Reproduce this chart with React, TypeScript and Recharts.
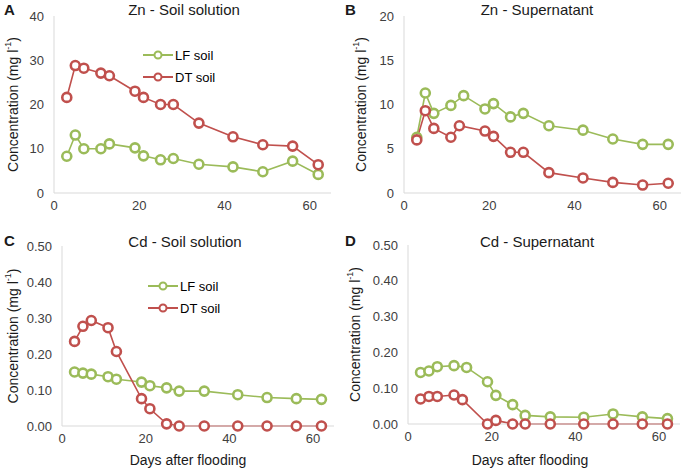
import { LineChart, Line, XAxis, YAxis, Legend, Label } from "recharts";

const daysSoil = [3, 5, 7, 11, 13, 19, 21, 25, 28, 34, 42, 49, 56, 62];
const daysSupLF = [3, 5, 7, 11, 14, 19, 21, 25, 28, 34, 42, 49, 56, 62];
const daysSupDT = [3, 5, 7, 11, 13, 19, 21, 25, 28, 34, 42, 49, 56, 62];

const znSoilLF = [8.3, 13.1, 10.0, 10.0, 11.1, 10.2, 8.4, 7.5, 7.8, 6.5, 5.9, 4.8, 7.2, 4.2];
const znSoilDT = [21.6, 28.8, 28.2, 27.1, 26.5, 23.0, 21.6, 20.0, 20.0, 15.8, 12.7, 10.9, 10.6, 6.4];

const znSupLF = [6.3, 11.3, 9.0, 9.9, 11.0, 9.5, 10.1, 8.6, 9.0, 7.6, 7.1, 6.1, 5.5, 5.5];
const znSupDT = [6.0, 9.3, 7.3, 6.3, 7.6, 7.0, 6.4, 4.6, 4.6, 2.3, 1.7, 1.2, 0.9, 1.1];

const cdSoilLF = [0.15, 0.147, 0.144, 0.137, 0.13, 0.122, 0.112, 0.106, 0.097, 0.097, 0.087, 0.079, 0.076, 0.074];
const cdSoilDT = [0.235, 0.277, 0.293, 0.273, 0.207, 0.076, 0.048, 0.006, 0, 0, 0, 0, 0, 0];

const cdSupLF = [0.144, 0.148, 0.16, 0.163, 0.158, 0.118, 0.08, 0.054, 0.024, 0.02, 0.019, 0.028, 0.02, 0.015];
const cdSupDT = [0.07, 0.077, 0.077, 0.081, 0.068, 0, 0.01, 0, 0, 0, 0, 0, 0, 0];

const xTicks = [0, 20, 40, 60];
const znSoilTicks = [0, 10, 20, 30, 40];
const znSupTicks = [0, 5, 10, 15, 20];
const cdTicks = [0, 0.1, 0.2, 0.3, 0.4, 0.5];

const GREEN = "#9BBB59";
const RED = "#C0504D";
const FONT = "'Liberation Sans', Arial, sans-serif";

const toPoints = (days: number[], vals: number[]) =>
  days.map((d, i) => ({ day: d, value: vals[i] }));

const LegendBox = () => (
  <div style={{ fontFamily: FONT, fontSize: 13, color: "#000", fontWeight: 400 }}>
    {[
      { name: "LF soil", color: GREEN },
      { name: "DT soil", color: RED },
    ].map((it) => (
      <div key={it.name} style={{ display: "flex", alignItems: "center", height: 22 }}>
        <svg width={30} height={12}>
          <line x1={0} y1={6} x2={30} y2={6} stroke={it.color} strokeWidth={2} />
          <circle cx={15} cy={6} r={3.5} fill="#fff" stroke={it.color} strokeWidth={2} />
        </svg>
        <span style={{ marginLeft: 2 }}>{it.name}</span>
      </div>
    ))}
  </div>
);

type PanelProps = {
  left: number;
  top: number;
  width: number;
  height: number;
  margin: { top: number; right: number; left: number; bottom: number };
  lf: { day: number; value: number }[];
  dt: { day: number; value: number }[];
  yDomain: [number, number];
  yTicks: number[];
  decimals: number;
  yLabelX: number;
  legendPos?: { left: number; top: number };
};

const Panel = (p: PanelProps) => {
  const yLabel = (props: any) => {
    const vb = props.viewBox || {};
    const cy = vb.y + vb.height / 2;
    return (
      <text
        x={p.yLabelX}
        y={cy}
        transform={`rotate(-90 ${p.yLabelX} ${cy})`}
        textAnchor="middle"
        dominantBaseline="central"
        fontSize={14}
        fill="#1a1a1a"
        fontFamily={FONT}
      >
        Concentration (mg l
        <tspan dy={-5} fontSize={9}>
          -1
        </tspan>
        <tspan dy={5}>)</tspan>
      </text>
    );
  };
  return (
    <div style={{ position: "absolute", left: p.left, top: p.top }}>
      <LineChart width={p.width} height={p.height} margin={p.margin}>
        <XAxis
          type="number"
          dataKey="day"
          domain={[0, 65]}
          ticks={xTicks}
          allowDataOverflow
          axisLine={{ stroke: "#d9d9d9" }}
          tickLine={false}
          tickMargin={2}
          height={30}
          tick={{ fontSize: 13, fill: "#404040", fontFamily: FONT }}
        />
        <YAxis
          type="number"
          domain={p.yDomain}
          ticks={p.yTicks}
          width={44}
          axisLine={{ stroke: "#d9d9d9" }}
          tickLine={false}
          tickMargin={4}
          tickFormatter={(v: number) => v.toFixed(p.decimals)}
          tick={{ fontSize: 13, fill: "#404040", fontFamily: FONT }}
        >
          <Label content={yLabel} />
        </YAxis>
        {p.legendPos && (
          <Legend
            layout="horizontal"
            verticalAlign="middle"
            align="center"
            content={() => <LegendBox />}
            wrapperStyle={{ position: "absolute", left: p.legendPos.left, top: p.legendPos.top, width: "auto" }}
          />
        )}
        <Line
          data={p.lf}
          dataKey="value"
          stroke={GREEN}
          strokeWidth={1.6}
          dot={{ r: 4.5, fill: "#fff", stroke: GREEN, strokeWidth: 2.6 }}
          isAnimationActive={false}
        />
        <Line
          data={p.dt}
          dataKey="value"
          stroke={RED}
          strokeWidth={1.6}
          dot={{ r: 4.5, fill: "#fff", stroke: RED, strokeWidth: 2.6 }}
          isAnimationActive={false}
        />
      </LineChart>
    </div>
  );
};

const textStyle = (left: number, top: number, extra: any = {}) => ({
  position: "absolute" as const,
  left,
  top,
  fontFamily: FONT,
  fontWeight: 400,
  color: "#1a1a1a",
  whiteSpace: "nowrap" as const,
  ...extra,
});

const App = () => {
  return (
    <div style={{ position: "absolute", left: 0, top: 0, width: 685, height: 471, background: "#fff", overflow: "hidden" }}>
      <Panel
        left={0}
        top={0}
        width={340}
        height={235}
        margin={{ top: 16, right: 9, left: 10, bottom: 12 }}
        lf={toPoints(daysSoil, znSoilLF)}
        dt={toPoints(daysSoil, znSoilDT)}
        yDomain={[0, 40]}
        yTicks={znSoilTicks}
        decimals={0}
        yLabelX={13}
        legendPos={{ left: 143, top: 44 }}
      />
      <Panel
        left={340}
        top={0}
        width={345}
        height={235}
        margin={{ top: 16, right: 4, left: 20, bottom: 12 }}
        lf={toPoints(daysSupLF, znSupLF)}
        dt={toPoints(daysSupDT, znSupDT)}
        yDomain={[0, 20]}
        yTicks={znSupTicks}
        decimals={0}
        yLabelX={21}
      />
      <Panel
        left={0}
        top={235}
        width={340}
        height={236}
        margin={{ top: 11, right: 6, left: 18, bottom: 15 }}
        lf={toPoints(daysSoil, cdSoilLF)}
        dt={toPoints(daysSoil, cdSoilDT)}
        yDomain={[0, 0.5]}
        yTicks={cdTicks}
        decimals={2}
        yLabelX={13}
        legendPos={{ left: 148, top: 40 }}
      />
      <Panel
        left={340}
        top={235}
        width={345}
        height={236}
        margin={{ top: 10, right: 5, left: 24, bottom: 17 }}
        lf={toPoints(daysSupLF, cdSupLF)}
        dt={toPoints(daysSupDT, cdSupDT)}
        yDomain={[0, 0.5]}
        yTicks={cdTicks}
        decimals={2}
        yLabelX={15}
      />

      <div style={textStyle(4, 1, { fontSize: 15, fontWeight: 700 })}>A</div>
      <div style={textStyle(345, 1, { fontSize: 15, fontWeight: 700 })}>B</div>
      <div style={textStyle(4, 232, { fontSize: 15, fontWeight: 700 })}>C</div>
      <div style={textStyle(345, 232, { fontSize: 15, fontWeight: 700 })}>D</div>

      <div style={textStyle(184, 1, { fontSize: 15, transform: "translateX(-50%)" })}>Zn - Soil solution</div>
      <div style={textStyle(537, 1, { fontSize: 15, transform: "translateX(-50%)" })}>Zn - Supernatant</div>
      <div style={textStyle(185, 233, { fontSize: 15, transform: "translateX(-50%)" })}>Cd - Soil solution</div>
      <div style={textStyle(537, 233, { fontSize: 15, transform: "translateX(-50%)" })}>Cd - Supernatant</div>

      <div style={textStyle(188, 452, { fontSize: 14, transform: "translateX(-50%)" })}>Days after flooding</div>
      <div style={textStyle(530, 452, { fontSize: 14, transform: "translateX(-50%)" })}>Days after flooding</div>
    </div>
  );
};

export default App;
